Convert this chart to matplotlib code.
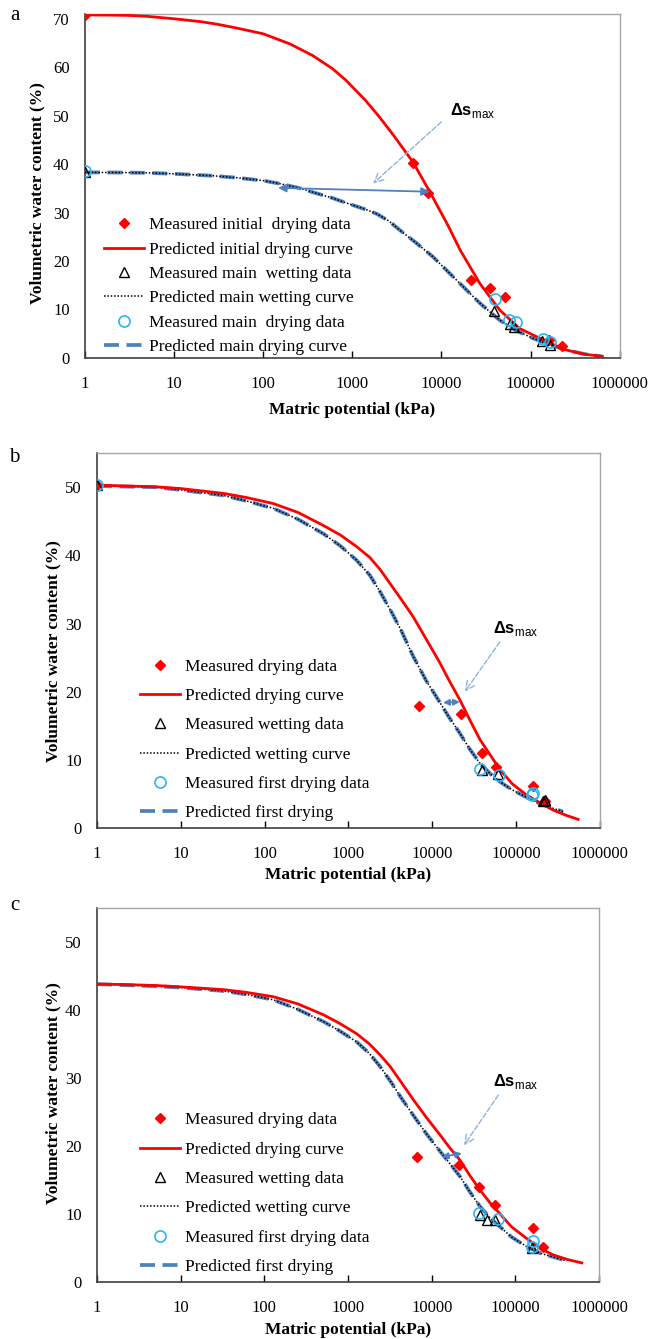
import matplotlib
matplotlib.use('Agg')
import matplotlib.pyplot as plt
from matplotlib.ticker import NullLocator

plt.rcParams['font.family'] = ['Liberation Serif', 'DejaVu Serif']
plt.rcParams['mathtext.fontset'] = 'custom'
plt.rcParams['mathtext.rm'] = 'Liberation Sans'
plt.rcParams['mathtext.bf'] = 'Liberation Sans:bold'

RED = '#FF0000'
BLUE = '#4F81BD'
CYAN = '#2BB6F0'

xticks = [1, 10, 100, 1000, 10000, 100000, 1000000]
xticklabels = ['1', '10', '100', '1000', '10000', '100000', '1000000']

# ---- panel a ----
a_meas_dry_x = [1, 4800, 7000, 21600, 35300, 51100, 160000, 226000]
a_meas_dry_y = [70.8, 40.3, 34.0, 16.1, 14.5, 12.5, 3.7, 2.4]
a_meas_wet_x = [1, 38800, 59300, 65000, 135000, 166000]
a_meas_wet_y = [38.4, 9.7, 7.0, 6.3, 3.4, 2.6]
a_meas_main_x = [1, 39500, 57100, 67900, 137000, 166000]
a_meas_main_y = [38.6, 12.1, 7.8, 7.5, 4.0, 3.2]
a_pred_dry_x = [1, 2, 3, 5, 10, 20, 30, 50, 100, 200, 360, 600, 850, 1400, 2000, 2860,
                4800, 7400, 11800, 16300, 26900, 45000, 75000, 150000, 250000, 390000, 640000]
a_pred_dry_y = [70.8, 70.75, 70.7, 70.5, 70.0, 69.4, 68.9, 68.1, 66.9, 64.8, 62.4, 59.7,
                57.3, 53.2, 49.8, 46.1, 40.4, 34.3, 27.4, 22.2, 15.4, 9.9, 6.1, 3.4, 1.65,
                0.8, 0.3]
a_pred_main_x = [1, 3, 5, 10, 27, 50, 100, 150, 250, 360, 600, 850, 1440, 1900, 2600,
                 3400, 5000, 8000, 14700, 27000, 45000, 70000, 106000, 160000, 250000,
                 400000, 640000]
a_pred_main_y = [38.3, 38.25, 38.2, 38.0, 37.6, 37.2, 36.6, 36.0, 35.1, 34.2, 33.0, 32.0,
                 30.6, 29.7, 28.2, 26.4, 24.0, 20.9, 16.1, 11.3, 7.8, 5.6, 4.06, 2.8, 1.65,
                 0.8, 0.3]
a_labels = ['Measured initial  drying data', 'Predicted initial drying curve',
            'Measured main  wetting data', 'Predicted main wetting curve',
            'Measured main  drying data', 'Predicted main drying curve']

# ---- panel b ----
b_meas_dry_x = [1, 7000, 21800, 38800, 57500, 160000, 221000]
b_meas_dry_y = [50.3, 17.9, 16.8, 11.0, 9.0, 6.1, 4.0]
b_meas_wet_x = [1, 38800, 61200, 210000, 221000]
b_meas_wet_y = [50.3, 8.5, 8.0, 4.0, 4.1]
b_meas_first_x = [1, 37100, 63000, 157000, 160000]
b_meas_first_y = [50.3, 8.6, 7.8, 4.8, 5.2]
b_pred_dry_x = [1, 2, 5, 10, 32, 60, 127, 250, 500, 800, 1250, 1800, 2400, 3130, 4300,
                5930, 8500, 12400, 16000, 21400, 28000, 37100, 50000, 64200, 90000,
                134000, 200000, 277000, 400000, 552000]
b_pred_dry_y = [50.3, 50.2, 50.06, 49.8, 49.1, 48.5, 47.6, 46.3, 44.4, 43.0, 41.3, 39.7,
                37.9, 35.9, 33.5, 31.0, 27.7, 24.2, 21.6, 18.8, 15.9, 13.0, 10.6, 8.6, 6.5,
                4.84, 3.6, 2.64, 1.85, 1.27]
b_pred_first_x = [1, 2, 5, 10, 32, 60, 127, 250, 500, 800, 1250, 1800, 2380, 3300, 4300,
                  5930, 8500, 12400, 16000, 21400, 28000, 37100, 50000, 64200, 90000,
                  134000, 200000, 365000]
b_pred_first_y = [50.2, 50.1, 50.0, 49.6, 48.8, 48.0, 46.9, 45.3, 43.2, 41.4, 39.3, 37.1,
                  34.7, 31.6, 28.9, 25.2, 21.6, 18.4, 16.2, 13.9, 11.6, 9.5, 7.9, 6.8, 5.6,
                  4.5, 3.5, 2.4]
bc_labels = ['Measured drying data', 'Predicted drying curve',
             'Measured wetting data', 'Predicted wetting curve',
             'Measured first drying data', 'Predicted first drying']

# ---- panel c ----
c_meas_dry_x = [6730, 21400, 37100, 57100, 161000, 216000]
c_meas_dry_y = [18.4, 17.2, 13.9, 11.3, 7.9, 5.1]
c_meas_wet_x = [37800, 45400, 57100, 157000]
c_meas_wet_y = [9.9, 9.1, 9.1, 5.0]
c_meas_first_x = [36800, 62600, 161000, 157000]
c_meas_first_y = [10.1, 9.2, 6.0, 5.1]
c_pred_dry_x = [1, 2, 5, 10, 32, 60, 128, 250, 507, 800, 1270, 1800, 2410, 3180, 4300,
                6030, 8500, 12600, 16000, 21800, 28000, 37800, 50000, 65600, 90000,
                136000, 200000, 284000, 420000, 621000]
c_pred_dry_y = [43.8, 43.75, 43.6, 43.4, 43.0, 42.6, 41.95, 40.9, 39.3, 38.0, 36.5, 35.0,
                33.4, 31.7, 29.4, 26.8, 24.3, 21.6, 19.9, 17.9, 15.8, 13.5, 11.6, 10.0, 8.1,
                6.4, 4.9, 3.97, 3.3, 2.8]
c_pred_first_x = [1, 5, 10, 32, 60, 128, 250, 507, 800, 1270, 1800, 2410, 3300, 4300,
                  6030, 8500, 12600, 16000, 21800, 28000, 37800, 50000, 65600, 90000,
                  136000, 200000, 411000]
c_pred_first_y = [43.8, 43.5, 43.3, 42.8, 42.3, 41.5, 40.1, 38.3, 36.9, 35.3, 33.6, 31.7,
                  29.3, 27.1, 24.5, 21.9, 19.2, 17.6, 15.5, 13.4, 11.1, 9.4, 8.1, 6.6, 5.2,
                  4.2, 3.1]


def draw_panel(ax, dry, wet, first, pred_dry, pred_first, labels, ymax, yticks,
               leg_anchor, leg_spacing, dbl, dbl_size, dashed, txt):
    h2, = ax.plot(pred_first[0], pred_first[1], color=BLUE, lw=2.7,
                  linestyle=(0, (4, 2)), zorder=2)
    h1, = ax.plot(pred_first[0], pred_first[1], color='black', lw=1.1,
                  linestyle=(0, (1, 1.2)), zorder=3)
    hr, = ax.plot(pred_dry[0], pred_dry[1], color=RED, lw=2.0, zorder=4)
    hd, = ax.plot(dry[0], dry[1], ls='none', marker='D', ms=5.5, color=RED, zorder=5)
    hw, = ax.plot(wet[0], wet[1], ls='none', marker='^', ms=7, mfc='none',
                  mec='black', mew=1.0, zorder=6)
    hc, = ax.plot(first[0], first[1], ls='none', marker='o', ms=8, mfc='none',
                  mec=CYAN, mew=1.2, zorder=6)

    ax.annotate('', xy=dbl[0], xytext=dbl[1],
                arrowprops=dict(arrowstyle='<|-|>', color=BLUE, lw=1.3,
                                mutation_scale=dbl_size, shrinkA=0, shrinkB=0), zorder=7)
    ax.annotate('', xy=dashed[1], xytext=dashed[0],
                arrowprops=dict(arrowstyle='->', color='#8DB4E2', lw=1.0, ls='--',
                                mutation_scale=16, shrinkA=0, shrinkB=0), zorder=7)
    ax.text(txt[0], txt[1], r'$\mathbf{\Delta s}_{\mathrm{max}}$', fontsize=12,
            ha='left', va='center')

    ax.set_xscale('log')
    ax.set_xlim(1, 1e6)
    ax.set_ylim(0, ymax)
    ax.set_xticks(xticks)
    ax.set_xticklabels(xticklabels)
    ax.xaxis.set_minor_locator(NullLocator())
    ax.set_yticks(yticks)
    ax.tick_params(axis='x', direction='in', length=5, width=1, labelsize=12, pad=13)
    ax.tick_params(axis='y', length=0, labelsize=12, pad=11)
    for s in ['left', 'bottom']:
        ax.spines[s].set_color('#404040')
        ax.spines[s].set_linewidth(1.2)
    for s in ['top', 'right']:
        ax.spines[s].set_color('#A6A6A6')
        ax.spines[s].set_linewidth(1.0)

    ax.set_xlabel('Matric potential (kPa)', fontsize=12.5, fontweight='bold')
    ax.set_ylabel('Volumetric water content (%)', fontsize=12.5, fontweight='bold')

    handles = [hd, hr, hw, h1, hc, h2]
    ax.legend(handles, labels, loc='upper left', bbox_to_anchor=leg_anchor,
              frameon=False, fontsize=12.5, handlelength=2.3, handletextpad=0.3,
              labelspacing=leg_spacing, borderpad=0, borderaxespad=0, numpoints=1)


fig = plt.figure(figsize=(6.53, 13.39), dpi=100)
ax_a = fig.add_axes([0.130, 0.7327, 0.819, 0.2569])
ax_b = fig.add_axes([0.1485, 0.3816, 0.770, 0.280])
ax_c = fig.add_axes([0.1485, 0.0426, 0.769, 0.2793])

draw_panel(ax_a, (a_meas_dry_x, a_meas_dry_y), (a_meas_wet_x, a_meas_wet_y),
           (a_meas_main_x, a_meas_main_y), (a_pred_dry_x, a_pred_dry_y),
           (a_pred_main_x, a_pred_main_y), a_labels, 71, range(0, 71, 10),
           (0.035, 0.409), 0.47,
           ((147, 35.1), (7400, 34.3)), 12, ((9960, 48.7), (1710, 36.0)), (12400, 51.0))
draw_panel(ax_b, (b_meas_dry_x, b_meas_dry_y), (b_meas_wet_x, b_meas_wet_y),
           (b_meas_first_x, b_meas_first_y), (b_pred_dry_x, b_pred_dry_y),
           (b_pred_first_x, b_pred_first_y), bc_labels, 55, range(0, 51, 10),
           (0.0855, 0.452), 0.76,
           ((13500, 18.4), (21400, 18.5)), 9, ((64200, 27.3), (24500, 20.0)), (53300, 29.3))
draw_panel(ax_c, (c_meas_dry_x, c_meas_dry_y), (c_meas_wet_x, c_meas_wet_y),
           (c_meas_first_x, c_meas_first_y), (c_pred_dry_x, c_pred_dry_y),
           (c_pred_first_x, c_pred_first_y), bc_labels, 55, range(0, 51, 10),
           (0.0857, 0.454), 0.76,
           ((13200, 18.4), (22900, 18.9)), 9, ((62600, 27.5), (24300, 20.1)), (54600, 29.5))

ax_a.xaxis.set_label_coords(0.5, -0.128)
ax_b.xaxis.set_label_coords(0.5, -0.104)
ax_c.xaxis.set_label_coords(0.5, -0.107)
ax_a.yaxis.set_label_coords(-0.073, 0.48)
ax_b.yaxis.set_label_coords(-0.0716, 0.472)
ax_c.yaxis.set_label_coords(-0.0717, 0.505)

fig.text(14.6 / 653, 1 - 15 / 1339, 'a', ha='center', va='center', fontsize=15)
fig.text(14.6 / 653, 1 - 458 / 1339, 'b', ha='center', va='center', fontsize=15)
fig.text(14.6 / 653, 1 - 905 / 1339, 'c', ha='center', va='center', fontsize=15)

fig.savefig('out.png', dpi=100)
